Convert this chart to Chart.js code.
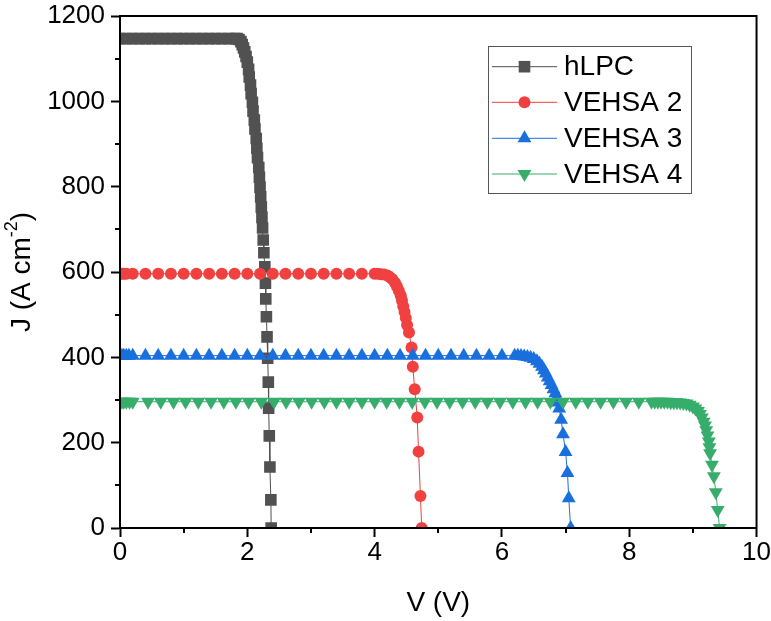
<!DOCTYPE html>
<html>
<head>
<meta charset="utf-8">
<script src="https://cdn.jsdelivr.net/npm/chart.js@4"></script>
<style>
  html, body { margin: 0; padding: 0; background: #fff; }
</style>
</head>
<body>
<canvas id="chart" width="771" height="621"></canvas>
<script>
// J-V curves (V in volts, J in A cm-2)
const seriesNames = ['hLPC', 'VEHSA 2', 'VEHSA 3', 'VEHSA 4'];

const hlpcV = [0, 0.1, 0.2, 0.3, 0.4, 0.5, 0.6, 0.7, 0.8, 0.9, 1.0, 1.1, 1.2, 1.3, 1.4, 1.5, 1.6, 1.7, 1.8,
  1.84, 1.87, 1.90, 1.92, 1.94, 1.96, 1.98, 2.00, 2.02, 2.03, 2.05, 2.06, 2.08, 2.09, 2.11, 2.12, 2.14, 2.15, 2.16, 2.18, 2.19, 2.20, 2.21, 2.22, 2.23, 2.24,
  2.25, 2.26, 2.275, 2.285, 2.29, 2.30, 2.31, 2.32, 2.33, 2.335, 2.345, 2.355, 2.37, 2.375];
const hlpcJ = [1147, 1147, 1147, 1147, 1147, 1147, 1147, 1147, 1147, 1147, 1147, 1147, 1147, 1147, 1147, 1147, 1147, 1147, 1147,
  1147, 1145, 1140, 1133, 1125, 1116, 1105, 1092, 1075, 1057, 1038, 1018, 998, 977, 956, 935, 913, 890, 868, 845, 822, 799, 776, 752, 728, 703,
  675, 645, 612, 574, 537, 495, 448, 398, 342, 281, 216, 143, 66, 0];

const vehsa2V = [0, 0.03, 0.06, 0.1, 0.2, 0.4, 0.6, 0.8, 1.0, 1.2, 1.4, 1.6, 1.8, 2.0, 2.2, 2.4, 2.6, 2.8, 3.0, 3.2, 3.4, 3.6, 3.8,
  4.0, 4.05, 4.1, 4.15, 4.2, 4.24, 4.28, 4.32, 4.35, 4.38, 4.41, 4.43, 4.45, 4.47, 4.49, 4.51,
  4.54, 4.58, 4.60, 4.63, 4.67, 4.69, 4.72, 4.74];
const vehsa2J = [596, 596, 596, 596, 596, 596, 596, 596, 596, 596, 596, 596, 596, 596, 596, 596, 596, 596, 596, 596, 596, 596, 596,
  596, 596, 595, 594, 592, 588, 583, 575, 566, 556, 545, 533, 520, 506, 492, 476,
  458, 423, 378, 325, 259, 179, 75, 0];

const vehsa3V = [0, 0.03, 0.06, 0.1, 0.14, 0.2,
  0.4, 0.6, 0.8, 1.0, 1.2, 1.4, 1.6, 1.8, 2.0, 2.2, 2.4, 2.6, 2.8, 3.0, 3.2, 3.4, 3.6, 3.8, 4.0, 4.2, 4.4, 4.6, 4.8, 5.0, 5.2, 5.4, 5.6, 5.8, 6.0,
  6.2, 6.25, 6.3, 6.35, 6.4, 6.45, 6.5, 6.55, 6.59, 6.63, 6.66, 6.69, 6.72, 6.75, 6.78, 6.81, 6.84, 6.86, 6.88,
  6.90, 6.93, 6.96, 7.00, 7.03, 7.05, 7.08];
const vehsa3J = [404, 404, 404, 404, 404, 404,
  404, 404, 404, 404, 404, 404, 404, 404, 404, 404, 404, 404, 404, 404, 404, 404, 404, 404, 404, 404, 404, 404, 404, 404, 404, 404, 404, 404, 404,
  404, 404, 403, 402, 401, 399, 396, 391, 385, 378, 370, 362, 353, 344, 335, 325, 316, 305, 294,
  280, 254, 220, 178, 129, 70, 0];

const vehsa4V = [0, 0.03, 0.06, 0.1, 0.15, 0.2,
  0.44, 0.64, 0.84, 1.03, 1.23, 1.43, 1.63, 1.82, 2.02, 2.22, 2.42, 2.61, 2.81, 3.01, 3.21, 3.40, 3.60, 3.80, 4.00, 4.19,
  4.39, 4.59, 4.79, 4.98, 5.18, 5.38, 5.58, 5.77, 5.97, 6.17, 6.37, 6.56, 6.76, 6.96, 7.16, 7.35, 7.55, 7.75, 7.95, 8.15,
  8.35, 8.4, 8.45, 8.5, 8.55, 8.6, 8.65, 8.7, 8.75,
  8.8, 8.85, 8.9, 8.95, 9.0, 9.04, 9.08, 9.11, 9.14, 9.17, 9.19, 9.21, 9.23, 9.25, 9.26,
  9.27, 9.30, 9.33, 9.36, 9.39, 9.42];
const vehsa4J = [296, 296, 296, 296, 296, 296,
  296, 296, 296, 296, 296, 296, 296, 296, 296, 296, 296, 296, 296, 296, 296, 296, 296, 296, 296, 296,
  296, 296, 296, 296, 296, 296, 296, 296, 296, 296, 296, 296, 296, 296, 296, 296, 296, 296, 296, 296,
  296, 296, 296, 296, 296, 296, 295, 295, 295,
  294, 293, 292, 289, 285, 280, 274, 267, 259, 249, 240, 229, 217, 203, 189,
  175, 148, 121, 84, 42, 0];

const xTicks = { min: 0, max: 10, step: 2 };
const yTicks = { min: 0, max: 1200, step: 200 };
const xMinorTicks = [1, 3, 5, 7, 9];
const yMinorTicks = [100, 300, 500, 700, 900, 1100];
const xTitle = 'V (V)';
const yTitle = ['J (A cm', '-2', ')'];

const FONT = "'Liberation Sans', Arial, sans-serif";
const colors = ['#515151', '#F14040', '#1A6FDF', '#37AD6B'];
const markers = [
  { style: 'rect', radius: 8.2, rotation: 0 },
  { style: 'circle', radius: 6, rotation: 0 },
  { style: 'triangle', radius: 8, rotation: 0 },
  { style: 'triangle', radius: 8, rotation: 180 }
];

const toPoints = (vs, js) => vs.map((v, i) => ({ x: v, y: js[i] }));
const allV = [hlpcV, vehsa2V, vehsa3V, vehsa4V];
const allJ = [hlpcJ, vehsa2J, vehsa3J, vehsa4J];

const datasets = seriesNames.map((name, i) => ({
  label: name,
  data: toPoints(allV[i], allJ[i]),
  showLine: true,
  borderColor: colors[i],
  borderWidth: 1,
  backgroundColor: colors[i],
  pointBackgroundColor: colors[i],
  pointBorderWidth: 0,
  pointStyle: markers[i].style,
  pointRadius: markers[i].radius,
  pointRotation: markers[i].rotation,
  order: seriesNames.length - i
}));

function drawMarker(ctx, m, x, y, color) {
  ctx.fillStyle = color;
  ctx.beginPath();
  if (m.style === 'rect') {
    const s = m.radius * Math.SQRT1_2;
    ctx.rect(x - s, y - s, 2 * s, 2 * s);
  } else if (m.style === 'circle') {
    ctx.arc(x, y, m.radius, 0, Math.PI * 2);
  } else {
    let a = m.rotation * Math.PI / 180;
    for (let k = 0; k < 3; k++) {
      const px = x + Math.sin(a) * m.radius;
      const py = y - Math.cos(a) * m.radius;
      if (k === 0) ctx.moveTo(px, py); else ctx.lineTo(px, py);
      a += Math.PI * 2 / 3;
    }
    ctx.closePath();
  }
  ctx.fill();
}

// frame, minor ticks, axis titles and the line+symbol legend
const decorPlugin = {
  id: 'decor',
  afterDatasetsDraw(chart) {
    const { ctx, chartArea: a, scales: { x, y } } = chart;
    ctx.save();
    ctx.strokeStyle = '#000';
    ctx.lineWidth = 2;
    ctx.strokeRect(a.left, a.top, a.right - a.left, a.bottom - a.top);

    ctx.beginPath();
    xMinorTicks.forEach(v => {
      const px = Math.round(x.getPixelForValue(v));
      ctx.moveTo(px, a.bottom);
      ctx.lineTo(px, a.bottom + 5);
    });
    yMinorTicks.forEach(v => {
      const py = Math.round(y.getPixelForValue(v));
      ctx.moveTo(a.left, py);
      ctx.lineTo(a.left - 5, py);
    });
    ctx.stroke();

    // x title
    ctx.fillStyle = '#000';
    ctx.font = `28px ${FONT}`;
    ctx.textAlign = 'center';
    ctx.textBaseline = 'middle';
    ctx.fillText(xTitle, (a.left + a.right) / 2, 603);

    // y title with superscript
    ctx.translate(22, (a.top + a.bottom) / 2);
    ctx.rotate(-Math.PI / 2);
    ctx.textAlign = 'left';
    const big = `28px ${FONT}`, small = `18px ${FONT}`;
    ctx.font = big; const w1 = ctx.measureText(yTitle[0]).width;
    ctx.font = small; const w2 = ctx.measureText(yTitle[1]).width;
    ctx.font = big; const w3 = ctx.measureText(yTitle[2]).width;
    let sx = -(w1 + w2 + w3) / 2;
    ctx.font = big; ctx.fillText(yTitle[0], sx, 0); sx += w1;
    ctx.font = small; ctx.fillText(yTitle[1], sx, -10); sx += w2;
    ctx.font = big; ctx.fillText(yTitle[2], sx, 0);
    ctx.restore();

    // legend
    ctx.save();
    const lx = 488.5, ly = 46.5, lw = 203, lh = 147;
    ctx.strokeStyle = '#555';
    ctx.lineWidth = 1;
    ctx.strokeRect(lx, ly, lw, lh);
    const rows = [66.7, 102.3, 138.3, 174];
    seriesNames.forEach((name, i) => {
      const cy = rows[i];
      ctx.strokeStyle = colors[i];
      ctx.lineWidth = 1;
      ctx.beginPath();
      ctx.moveTo(492, cy);
      ctx.lineTo(557, cy);
      ctx.stroke();
      drawMarker(ctx, markers[i], 524.5, cy, colors[i]);
      ctx.fillStyle = '#000';
      ctx.font = `28px ${FONT}`;
      ctx.textAlign = 'left';
      ctx.textBaseline = 'middle';
      ctx.fillText(name, 564, cy + 1);
    });
    ctx.restore();
  }
};

new Chart(document.getElementById('chart'), {
  type: 'scatter',
  data: { datasets },
  plugins: [decorPlugin],
  options: {
    responsive: false,
    animation: false,
    layout: { padding: { left: 0, right: 14, top: 0, bottom: 0 } },
    plugins: { legend: { display: false }, tooltip: { enabled: false } },
    scales: {
      x: {
        type: 'linear',
        min: xTicks.min,
        max: xTicks.max,
        ticks: { stepSize: xTicks.step, color: '#000', font: { family: FONT, size: 26 }, padding: 0, maxRotation: 0, callback: v => String(v) },
        grid: { drawOnChartArea: false, tickLength: 9, tickWidth: 2, tickColor: '#000' },
        border: { color: '#000', width: 2 },
        afterFit(s) { s.height = 93; }
      },
      y: {
        type: 'linear',
        min: yTicks.min,
        max: yTicks.max,
        ticks: { stepSize: yTicks.step, color: '#000', font: { family: FONT, size: 26 }, padding: 6, callback: v => String(v) },
        grid: { drawOnChartArea: false, tickLength: 9, tickWidth: 2, tickColor: '#000' },
        border: { color: '#000', width: 2 },
        afterFit(s) { s.width = 120; s.paddingTop = 16; }
      }
    }
  }
});
</script>
</body>
</html>
